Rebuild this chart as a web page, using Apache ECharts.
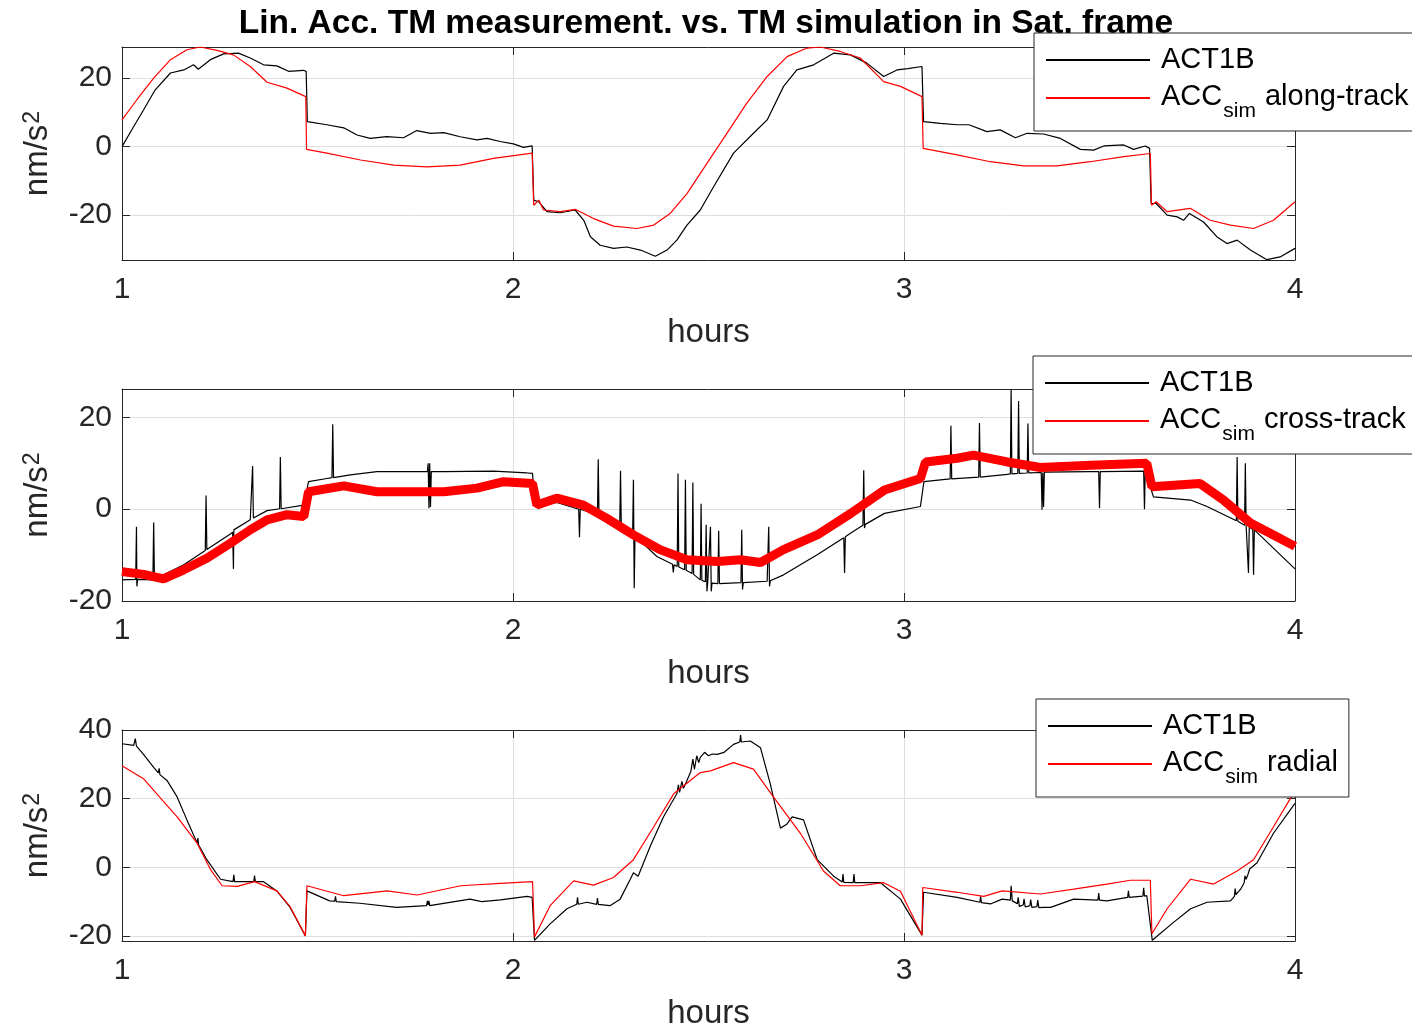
<!DOCTYPE html>
<html><head><meta charset="utf-8">
<script src="https://cdn.jsdelivr.net/npm/echarts@6/dist/echarts.min.js"></script>
<style>html,body{margin:0;padding:0;background:#fff}#c{width:1412px;height:1031px}</style>
</head><body><div id="c"></div>
<script>
// ---------------- data ----------------
const titleText = 'Lin. Acc. TM measurement. vs. TM simulation in Sat. frame';
const xTicks = [1, 2, 3, 4];
const alongTicks = [-20, 0, 20];
const crossTicks = [-20, 0, 20];
const radialTicks = [-20, 0, 20, 40];

// along-track: [hours, nm/s^2]
const alongAct = [[1.000,0.0],[1.030,5.9],[1.055,10.7],[1.085,16.6],[1.124,21.5],[1.158,22.4],[1.183,23.9],[1.195,22.6],[1.226,25.4],[1.260,27.1],[1.298,27.3],[1.328,25.9],[1.362,23.9],[1.396,23.6],[1.426,22.0],[1.464,22.3],[1.471,22.0],[1.474,7.3],[1.524,6.4],[1.567,5.5],[1.601,3.4],[1.635,2.4],[1.677,2.9],[1.720,2.6],[1.754,4.7],[1.789,3.9],[1.823,4.1],[1.865,2.9],[1.908,2.0],[1.934,2.4],[1.967,1.5],[2.001,0.8],[2.027,-0.2],[2.049,0.2],[2.053,-15.6],[2.066,-16.1],[2.087,-19.0],[2.121,-19.3],[2.159,-18.5],[2.181,-21.5],[2.198,-26.3],[2.223,-28.8],[2.257,-29.7],[2.291,-29.3],[2.326,-30.2],[2.364,-32.0],[2.394,-30.2],[2.419,-27.3],[2.445,-22.9],[2.479,-18.5],[2.513,-11.7],[2.564,-1.9],[2.615,3.9],[2.650,7.8],[2.692,17.6],[2.726,22.4],[2.769,23.9],[2.820,27.3],[2.863,26.8],[2.905,24.4],[2.948,20.5],[2.982,22.4],[3.010,22.8],[3.046,23.4],[3.050,7.3],[3.093,6.8],[3.136,6.4],[3.166,6.4],[3.212,4.4],[3.246,4.9],[3.285,2.6],[3.315,3.9],[3.357,3.7],[3.400,2.4],[3.451,-0.8],[3.485,-1.0],[3.511,0.2],[3.562,0.5],[3.587,-0.8],[3.617,0.2],[3.628,-0.5],[3.632,-16.6],[3.645,-16.6],[3.673,-20.0],[3.699,-20.5],[3.715,-21.5],[3.730,-19.5],[3.766,-22.0],[3.800,-26.3],[3.826,-28.3],[3.852,-27.3],[3.886,-30.2],[3.928,-33.0],[3.962,-32.2],[4.000,-29.7]];
const alongSim = [[1.000,7.8],[1.038,13.7],[1.081,20.0],[1.124,25.4],[1.166,28.3],[1.200,29.1],[1.243,28.1],[1.285,26.8],[1.328,23.4],[1.371,18.8],[1.422,17.1],[1.470,14.6],[1.472,-0.8],[1.524,-1.9],[1.610,-3.9],[1.695,-5.4],[1.780,-5.9],[1.865,-5.4],[1.950,-3.4],[2.049,-1.9],[2.053,-17.1],[2.066,-15.6],[2.078,-18.5],[2.121,-19.0],[2.159,-18.3],[2.206,-21.0],[2.257,-23.2],[2.317,-23.9],[2.360,-22.9],[2.402,-19.5],[2.445,-13.7],[2.496,-4.9],[2.547,3.9],[2.598,12.7],[2.650,20.5],[2.701,26.3],[2.752,28.8],[2.786,29.1],[2.837,27.8],[2.888,25.9],[2.948,19.0],[2.991,17.6],[3.046,14.6],[3.049,-0.5],[3.136,-2.4],[3.221,-4.4],[3.306,-5.6],[3.391,-5.6],[3.476,-4.4],[3.562,-2.9],[3.630,-2.0],[3.633,-17.1],[3.645,-16.1],[3.673,-19.0],[3.732,-18.0],[3.783,-21.5],[3.835,-22.9],[3.894,-23.9],[3.945,-21.5],[4.000,-16.1]];

// cross-track
const crossAct = [[1.000,-15.4],[1.035,-15.3],[1.037,-3.8],[1.038,-16.8],[1.040,-15.3],[1.079,-15.4],[1.081,-2.9],[1.083,-15.4],[1.106,-14.3],[1.158,-12.1],[1.213,-9.0],[1.215,3.0],[1.217,-8.8],[1.277,-5.4],[1.283,-5.0],[1.285,-13.0],[1.286,-4.5],[1.288,-4.8],[1.328,-2.3],[1.332,-2.1],[1.334,9.4],[1.336,-1.9],[1.371,-0.3],[1.403,0.1],[1.405,11.4],[1.407,0.1],[1.465,0.9],[1.477,6.0],[1.524,6.7],[1.537,6.9],[1.539,18.5],[1.541,6.9],[1.584,7.5],[1.652,8.2],[1.781,8.2],[1.783,10.0],[1.785,0.2],[1.787,10.0],[1.789,0.5],[1.791,8.2],[1.823,8.2],[1.950,8.3],[2.036,7.9],[2.050,7.8],[2.055,1.0],[2.112,1.5],[2.168,0.0],[2.170,-6.1],[2.172,0.0],[2.216,-1.2],[2.218,10.9],[2.220,-1.4],[2.273,-3.8],[2.275,8.4],[2.277,-4.0],[2.306,-5.4],[2.308,6.4],[2.310,-17.2],[2.312,-5.8],[2.368,-10.3],[2.408,-12.0],[2.410,-13.8],[2.412,-12.1],[2.420,-12.5],[2.422,7.8],[2.424,-12.6],[2.439,-13.2],[2.441,6.4],[2.443,-13.3],[2.458,-14.0],[2.460,5.8],[2.462,-14.2],[2.479,-15.4],[2.481,1.2],[2.483,-15.5],[2.492,-15.8],[2.494,-3.4],[2.496,-17.9],[2.498,-15.9],[2.503,-16.0],[2.505,-3.8],[2.507,-17.9],[2.509,-16.1],[2.524,-16.2],[2.526,-4.7],[2.528,-16.2],[2.583,-16.0],[2.585,-4.5],[2.587,-17.5],[2.589,-16.0],[2.650,-15.7],[2.652,-15.7],[2.654,-3.8],[2.656,-16.8],[2.658,-15.6],[2.692,-14.3],[2.735,-12.1],[2.778,-9.9],[2.846,-6.2],[2.848,-13.9],[2.850,-6.0],[2.864,-5.2],[2.895,-3.5],[2.897,8.5],[2.899,-4.1],[2.901,-3.3],[2.950,-0.9],[3.042,0.6],[3.051,6.0],[3.118,6.6],[3.120,18.2],[3.122,6.6],[3.191,7.0],[3.193,18.8],[3.195,7.0],[3.264,7.6],[3.272,7.7],[3.274,26.1],[3.276,7.7],[3.291,7.8],[3.293,23.6],[3.295,7.8],[3.315,7.9],[3.317,18.7],[3.319,7.9],[3.351,8.0],[3.353,-0.1],[3.355,8.0],[3.357,0.5],[3.359,8.1],[3.477,8.2],[3.498,8.2],[3.500,0.2],[3.502,8.2],[3.613,8.3],[3.615,0.0],[3.617,8.3],[3.621,8.3],[3.638,2.7],[3.733,2.0],[3.775,0.6],[3.850,-2.5],[3.852,11.4],[3.854,-2.6],[3.861,-3.0],[3.871,-3.5],[3.873,10.0],[3.875,-3.6],[3.879,-3.8],[3.881,-13.9],[3.883,-3.9],[3.892,-4.4],[3.894,-14.3],[3.896,-4.5],[4.000,-13.0]];
const crossSim = [[1.000,-13.6],[1.055,-14.2],[1.106,-15.2],[1.158,-13.2],[1.217,-10.7],[1.277,-7.4],[1.328,-4.5],[1.371,-2.3],[1.422,-1.2],[1.465,-1.6],[1.477,3.8],[1.567,5.1],[1.652,3.8],[1.737,3.8],[1.823,3.8],[1.908,4.6],[1.976,6.0],[2.050,5.6],[2.061,0.9],[2.112,2.4],[2.180,0.9],[2.240,-2.0],[2.308,-5.6],[2.376,-8.8],[2.445,-11.0],[2.523,-11.4],[2.582,-11.0],[2.633,-11.6],[2.692,-8.8],[2.778,-5.6],[2.864,-0.9],[2.950,4.2],[3.042,6.7],[3.055,10.3],[3.136,11.1],[3.178,11.8],[3.264,10.3],[3.349,9.1],[3.477,9.6],[3.621,10.0],[3.634,4.9],[3.757,5.6],[3.817,2.0],[3.886,-3.0],[3.945,-5.6],[4.000,-8.1]];

// radial
const radialAct = [[1.000,36.0],[1.030,35.5],[1.034,37.5],[1.037,35.3],[1.055,32.9],[1.081,29.1],[1.093,27.5],[1.095,28.8],[1.097,27.0],[1.115,25.3],[1.141,20.5],[1.166,13.8],[1.192,7.1],[1.194,8.5],[1.196,6.5],[1.217,2.2],[1.252,-3.5],[1.284,-4.2],[1.286,-2.2],[1.288,-4.2],[1.337,-4.2],[1.339,-2.4],[1.341,-4.2],[1.362,-4.2],[1.396,-6.9],[1.430,-11.7],[1.469,-20.0],[1.473,-6.9],[1.531,-9.8],[1.544,-9.9],[1.546,-8.5],[1.548,-10.0],[1.608,-10.5],[1.702,-11.7],[1.779,-11.2],[1.781,-9.8],[1.783,-11.0],[1.785,-9.8],[1.787,-11.2],[1.890,-9.3],[1.920,-10.0],[1.968,-9.5],[2.036,-8.5],[2.049,-8.8],[2.055,-21.3],[2.095,-16.5],[2.138,-12.1],[2.163,-10.8],[2.165,-8.8],[2.167,-10.8],[2.189,-10.2],[2.214,-10.8],[2.216,-9.0],[2.218,-10.8],[2.248,-11.2],[2.274,-9.3],[2.300,-3.5],[2.308,-1.6],[2.320,-2.6],[2.351,6.1],[2.385,14.7],[2.419,21.4],[2.423,24.0],[2.426,21.8],[2.432,25.0],[2.436,23.0],[2.445,25.3],[2.455,28.0],[2.460,31.5],[2.464,28.5],[2.470,32.5],[2.475,30.5],[2.479,32.0],[2.490,33.5],[2.500,32.5],[2.510,33.0],[2.522,32.9],[2.540,33.5],[2.564,35.8],[2.580,36.5],[2.582,38.5],[2.584,36.5],[2.607,36.8],[2.633,34.8],[2.658,24.3],[2.684,11.4],[2.700,12.5],[2.714,14.7],[2.743,13.8],[2.778,2.2],[2.820,-2.6],[2.842,-4.3],[2.844,-2.0],[2.846,-4.4],[2.870,-4.5],[2.872,-2.0],[2.874,-4.5],[2.940,-4.5],[2.991,-9.3],[3.046,-19.8],[3.050,-7.3],[3.136,-8.8],[3.194,-10.2],[3.196,-8.5],[3.198,-10.3],[3.221,-10.7],[3.251,-9.3],[3.272,-9.6],[3.274,-5.4],[3.277,-9.8],[3.290,-10.6],[3.292,-8.8],[3.295,-11.4],[3.305,-11.0],[3.307,-9.2],[3.310,-11.6],[3.322,-11.2],[3.324,-9.4],[3.327,-11.7],[3.340,-11.5],[3.342,-9.6],[3.345,-11.8],[3.358,-11.7],[3.375,-11.7],[3.434,-9.3],[3.496,-9.6],[3.498,-7.5],[3.500,-9.6],[3.519,-9.8],[3.572,-8.8],[3.574,-6.9],[3.576,-8.8],[3.611,-8.4],[3.613,-6.0],[3.615,-8.4],[3.621,-8.3],[3.635,-21.3],[3.690,-16.0],[3.733,-12.1],[3.775,-10.2],[3.835,-9.8],[3.845,-8.5],[3.847,-6.2],[3.849,-8.0],[3.861,-6.4],[3.870,-4.5],[3.872,-2.5],[3.875,-3.5],[3.880,-2.0],[3.884,-0.5],[3.903,1.3],[3.945,9.9],[4.000,18.6]];
const radialSim = [[1.000,29.6],[1.055,25.8],[1.089,21.4],[1.141,14.7],[1.192,7.0],[1.226,-0.6],[1.256,-5.4],[1.295,-5.6],[1.339,-4.2],[1.396,-6.9],[1.430,-11.5],[1.469,-20.0],[1.473,-5.4],[1.567,-8.3],[1.678,-6.9],[1.755,-8.1],[1.866,-5.4],[1.968,-4.7],[2.050,-4.2],[2.055,-20.3],[2.095,-11.2],[2.155,-4.0],[2.206,-5.2],[2.257,-3.0],[2.308,2.2],[2.360,11.8],[2.411,21.4],[2.479,27.6],[2.505,28.1],[2.564,30.5],[2.615,28.6],[2.666,20.5],[2.735,9.9],[2.794,-1.1],[2.837,-5.4],[2.889,-5.4],[2.948,-4.5],[2.991,-7.0],[3.046,-19.8],[3.048,-5.9],[3.136,-7.3],[3.204,-8.5],[3.251,-6.9],[3.349,-7.8],[3.434,-6.4],[3.519,-4.9],[3.579,-3.8],[3.630,-3.8],[3.634,-19.4],[3.673,-12.1],[3.733,-3.5],[3.792,-4.9],[3.852,-1.1],[3.894,2.2],[3.945,11.8],[3.988,20.0],[4.000,22.0]];

const names = ['ACT1B', 'ACCsim along-track', 'ACCsim cross-track', 'ACCsim radial'];

// ---------------- chart ----------------
const FONT = '"Liberation Sans", Arial, Helvetica, sans-serif';
const AX = '#262626';
const GRIDC = '#dedede';
const FS_TICK = 30;
const FS_LABEL = 33;
const FS_LEG = 29;

const grids = [
  {left: 122, top: 47, width: 1173, height: 213},
  {left: 122, top: 389, width: 1173, height: 212},
  {left: 122, top: 730, width: 1173, height: 212}
];
const yRanges = [[-33.1, 29.1, alongTicks], [-20, 26.2, crossTicks], [-21.5, 40, radialTicks]];

const xAxes = [], yAxes = [];
grids.forEach((g, i) => {
  xAxes.push({
    type: 'value', gridIndex: i, position: 'bottom', min: 1, max: 4,
    axisLine: {show: true, onZero: false, lineStyle: {color: AX, width: 1}},
    axisTick: {show: true, inside: true, length: 8, lineStyle: {color: AX}, customValues: xTicks},
    axisLabel: {show: true, margin: 15, fontSize: FS_TICK, color: AX, fontFamily: FONT, customValues: xTicks},
    splitLine: {show: true, lineStyle: {color: GRIDC, width: 1}},
    name: 'hours', nameLocation: 'middle', nameGap: 56,
    nameTextStyle: {fontSize: FS_LABEL, color: AX, fontFamily: FONT}
  });
  xAxes.push({
    type: 'value', gridIndex: i, position: 'top', min: 1, max: 4,
    axisLine: {show: true, onZero: false, lineStyle: {color: AX, width: 1}},
    axisTick: {show: true, inside: true, length: 8, lineStyle: {color: AX}, customValues: xTicks},
    axisLabel: {show: false}, splitLine: {show: false}
  });
  const r = yRanges[i];
  yAxes.push({
    type: 'value', gridIndex: i, position: 'left', min: r[0], max: r[1],
    axisLine: {show: true, onZero: false, lineStyle: {color: AX, width: 1}},
    axisTick: {show: true, inside: true, length: 8, lineStyle: {color: AX}, customValues: r[2]},
    axisLabel: {show: true, margin: 10, fontSize: FS_TICK, color: AX, fontFamily: FONT, customValues: r[2]},
    splitLine: {show: true, lineStyle: {color: GRIDC, width: 1}},
    name: '{a|nm/s}{b|2}', nameLocation: 'middle', nameGap: 58,
    nameTextStyle: {color: AX, fontFamily: FONT, rich: {
      a: {fontSize: FS_LABEL, color: AX, fontFamily: FONT, lineHeight: 34, verticalAlign: 'bottom'},
      b: {fontSize: 23, color: AX, fontFamily: FONT, lineHeight: 23, verticalAlign: 'top', padding: [0, 0, 14, 1]}
    }}
  });
  yAxes.push({
    type: 'value', gridIndex: i, position: 'right', min: r[0], max: r[1],
    axisLine: {show: true, onZero: false, lineStyle: {color: AX, width: 1}},
    axisTick: {show: true, inside: true, length: 8, lineStyle: {color: AX}, customValues: r[2]},
    axisLabel: {show: false}, splitLine: {show: false}
  });
});

function line(name, gi, data, color, width) {
  return {
    type: 'line', name: name, xAxisIndex: gi * 2, yAxisIndex: gi * 2, data: data,
    symbol: 'none', showSymbol: false, animation: false, silent: true,
    lineStyle: {color: color, width: width}, itemStyle: {color: color}, z: 3
  };
}

const legendText = {
  fontSize: FS_LEG, color: '#000', fontFamily: FONT, lineHeight: 32, padding: [0, 0, 0, 6],
  rich: {
    m: {fontSize: FS_LEG, color: '#000', fontFamily: FONT, lineHeight: 32, verticalAlign: 'top'},
    s: {fontSize: 21, color: '#000', fontFamily: FONT, lineHeight: 21, verticalAlign: 'top', padding: [19, 1, 0, 1]}
  }
};
function legendFmt(n) {
  if (n.indexOf('ACCsim') === 0) return '{m|ACC}{s|sim}{m|' + n.slice(6) + '}';
  return n;
}
function legend(left, top, second, rightPad) {
  return {
    orient: 'vertical', left: left, top: top, z: 10,
    data: [names[0], second], icon: 'rect', itemWidth: 104, itemHeight: 2, itemGap: 6,
    padding: [11, rightPad, 9, 12], borderColor: AX, borderWidth: 1, backgroundColor: '#fff',
    selectedMode: false, textStyle: legendText, formatter: legendFmt
  };
}

const option = {
  backgroundColor: '#fff',
  animation: false,
  title: {text: titleText, left: 'center', top: 2, z: 1,
    textStyle: {fontSize: 33.5, fontWeight: 'bold', color: '#000', fontFamily: FONT}},
  grid: grids.map(g => Object.assign({show: false, containLabel: false}, g)),
  legend: [legend(1034, 33, names[1], 12), legend(1033, 356, names[2], 12), legend(1036, 699, names[3], 11)],
  xAxis: xAxes, yAxis: yAxes,
  series: [
    line(names[0], 0, alongAct, '#000000', 1.2),
    line(names[1], 0, alongSim, '#ff0000', 1.2),
    line(names[0], 1, crossAct, '#000000', 1.2),
    line(names[2], 1, crossSim, '#ff0000', 9),
    line(names[0], 2, radialAct, '#000000', 1.2),
    line(names[3], 2, radialSim, '#ff0000', 1.2)
  ]
};
const chart = echarts.init(document.getElementById('c'), null, {renderer: 'canvas'});
chart.setOption(option);
</script></body></html>
